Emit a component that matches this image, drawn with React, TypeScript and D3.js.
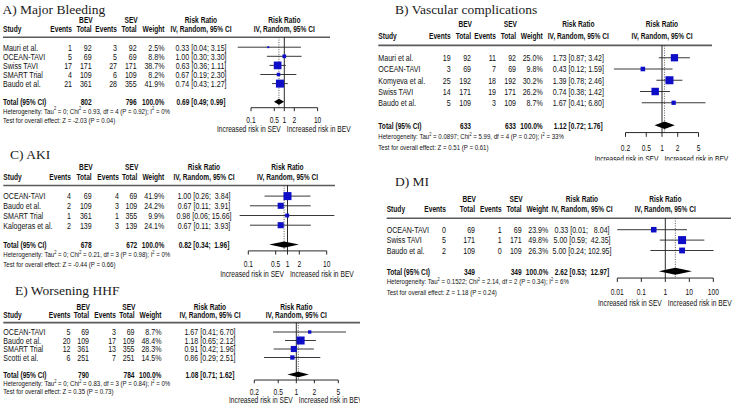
import React from 'react';
import * as d3 from 'd3';

// ---------- A) Major Bleeding
const studiesA = ["Mauri et al.", "OCEAN-TAVI", "Swiss TAVI", "SMART Trial", "Baudo et al."];
const bevEventsA = [1, 5, 17, 4, 21];
const bevTotalA = [92, 69, 171, 109, 361];
const sevEventsA = [3, 5, 27, 6, 28];
const sevTotalA = [92, 69, 171, 109, 355];
const weightA = [2.5, 8.8, 38.7, 8.2, 41.9];
const rrA = [0.33, 1.0, 0.63, 0.67, 0.74];
const loA = [0.04, 0.3, 0.36, 0.19, 0.43];
const hiA = [3.15, 3.3, 1.11, 2.3, 1.27];
const pooledA = [0.69, 0.49, 0.99];
const totalsA = [802, 796];
const hetA = "Heterogeneity: Tau^2 = 0; Chi^2 = 0.93, df = 4 (P = 0.92); I^2 = 0%";
const testA = "Test for overall effect: Z = -2.03 (P = 0.04)";
const ticksA = [0.1, 0.5, 1, 2, 10];

// ---------- B) Vascular complications
const studiesB = ["Mauri et al.", "OCEAN-TAVI", "Komyeva et al.", "Swiss TAVI", "Baudo et al."];
const bevEventsB = [19, 3, 25, 14, 5];
const bevTotalB = [92, 69, 192, 171, 109];
const sevEventsB = [11, 7, 18, 19, 3];
const sevTotalB = [92, 69, 192, 171, 109];
const weightB = [25.0, 9.8, 30.2, 26.2, 8.7];
const rrB = [1.73, 0.43, 1.39, 0.74, 1.67];
const loB = [0.87, 0.12, 0.78, 0.38, 0.41];
const hiB = [3.42, 1.59, 2.46, 1.42, 6.8];
const pooledB = [1.12, 0.72, 1.76];
const totalsB = [633, 633];
const hetB = "Heterogeneity: Tau^2 = 0.0897; Chi^2 = 5.99, df = 4 (P = 0.20); I^2 = 33%";
const testB = "Test for overall effect: Z = 0.51 (P = 0.61)";
const ticksB = [0.2, 0.5, 1, 2, 5];

// ---------- C) AKI
const studiesC = ["OCEAN-TAVI", "Baudo et al.", "SMART Trial", "Kalogeras et al."];
const bevEventsC = [4, 2, 1, 2];
const bevTotalC = [69, 109, 361, 139];
const sevEventsC = [4, 3, 1, 3];
const sevTotalC = [69, 109, 355, 139];
const weightC = [41.9, 24.2, 9.9, 24.1];
const rrC = [1.0, 0.67, 0.98, 0.67];
const loC = [0.26, 0.11, 0.06, 0.11];
const hiC = [3.84, 3.91, 15.66, 3.93];
const pooledC = [0.82, 0.34, 1.96];
const totalsC = [678, 672];
const hetC = "Heterogeneity: Tau^2 = 0; Chi^2 = 0.21, df = 3 (P = 0.98); I^2 = 0%";
const testC = "Test for overall effect: Z = -0.44 (P = 0.66)";
const ticksC = [0.1, 0.5, 1, 2, 10];

// ---------- D) MI
const studiesD = ["OCEAN-TAVI", "Swiss TAVI", "Baudo et al."];
const bevEventsD = [0, 5, 2];
const bevTotalD = [69, 171, 109];
const sevEventsD = [1, 1, 0];
const sevTotalD = [69, 171, 109];
const weightD = [23.9, 49.8, 26.3];
const rrD = [0.33, 5.0, 5.0];
const loD = [0.01, 0.59, 0.24];
const hiD = [8.04, 42.35, 102.95];
const pooledD = [2.62, 0.53, 12.97];
const totalsD = [349, 349];
const hetD = "Heterogeneity: Tau^2 = 0.1522; Chi^2 = 2.14, df = 2 (P = 0.34); I^2 = 6%";
const testD = "Test for overall effect: Z = 1.18 (P = 0.24)";
const ticksD = [0.01, 0.1, 1, 10, 100];

// ---------- E) Worsening HHF
const studiesE = ["OCEAN-TAVI", "Baudo et al.", "SMART Trial", "Scotti et al."];
const bevEventsE = [5, 20, 12, 6];
const bevTotalE = [69, 109, 361, 251];
const sevEventsE = [3, 17, 13, 7];
const sevTotalE = [69, 109, 355, 251];
const weightE = [8.7, 48.4, 28.3, 14.5];
const rrE = [1.67, 1.18, 0.91, 0.86];
const loE = [0.41, 0.65, 0.42, 0.29];
const hiE = [6.7, 2.12, 1.96, 2.51];
const pooledE = [1.08, 0.71, 1.62];
const totalsE = [790, 784];
const hetE = "Heterogeneity: Tau^2 = 0; Chi^2 = 0.83, df = 3 (P = 0.84); I^2 = 0%";
const testE = "Test for overall effect: Z = 0.35 (P = 0.73)";
const ticksE = [0.2, 0.5, 1, 2, 5];

const labelLeft = "Increased risk in SEV";
const labelRight = "Increased risk in BEV";

// ---------- layout (positions only)
type Layout = {
  id: string; title: string; titleX: number; titleY: number;
  studyX: number; ev1: number; tot1: number; ev2: number; tot2: number; w: number; ci: number;
  h1: number; s: number; lineEnd: number; xRange: [number, number];
  clip?: { x: number; y: number; w: number; h: number };
};

const layoutA: Layout = { id: 'A', title: 'A) Major Bleeding', titleX: 2.5, titleY: 13.5, studyX: 3, ev1: 72, tot1: 91.7, ev2: 117, tot2: 136.7, w: 164.5, ci: 201, h1: 19.9, s: 9.1, lineEnd: 330, xRange: [251, 317.6] };
const layoutB: Layout = { id: 'B', title: 'B) Vascular complications', titleX: 395, titleY: 13.5, studyX: 378.3, ev1: 450.7, tot1: 471, ev2: 496, tot2: 516, w: 542.7, ci: 578.3, h1: 24, s: 11.25, lineEnd: 712, xRange: [625.5, 698.5], clip: { x: 360, y: 0, w: 373, h: 160.5 } };
const layoutC: Layout = { id: 'C', title: 'C) AKI', titleX: 10, titleY: 159, studyX: 3.3, ev1: 71, tot1: 91.7, ev2: 119, tot2: 137.3, w: 164.3, ci: 204, h1: 167, s: 9.7, lineEnd: 335, xRange: [248.3, 326.7] };
const layoutD: Layout = { id: 'D', title: 'D) MI', titleX: 395, titleY: 186, studyX: 386.7, ev1: 446, tot1: 475, ev2: 501.7, tot2: 521.7, w: 548.3, ci: 582, h1: 198.5, s: 10.4, lineEnd: 731, xRange: [617.3, 713.3] };
const layoutE: Layout = { id: 'E', title: 'E) Worsening HHF', titleX: 15, titleY: 294.5, studyX: 3.3, ev1: 70.5, tot1: 89, ev2: 116, tot2: 134.5, w: 161.5, ci: 210, h1: 306.5, s: 8.5, lineEnd: 360, xRange: [254.3, 338.3], clip: { x: 0, y: 276, w: 360, h: 130 } };

const FONT = 'Liberation Sans, Arial, Helvetica, sans-serif';
const SX = 0.77;
const BSX = 0.72;
const FS = 9.2;
const HFS = 7.6;
const LFS = 8.8;
const LSX = 0.76;
const TXT = '#111';
const BLUE = '#0e0ec8';

type TProps = { x: number; y: number; children: React.ReactNode; anchor?: 'start' | 'middle' | 'end'; bold?: boolean; size?: number; sx?: number };
function T({ x, y, children, anchor = 'start', bold = false, size = FS, sx }: TProps) {
  const k = sx ?? (bold ? BSX : SX);
  return (
    <text
      transform={`translate(${x},${y + size * 0.36}) scale(${k},1)`}
      textAnchor={anchor}
      fontFamily={FONT}
      fontWeight={bold ? 'bold' : 'normal'}
      fontSize={size}
      fill={TXT}
      style={{ whiteSpace: 'pre' }}
    >
      {children}
    </text>
  );
}

function SupText({ x, y, text, size }: { x: number; y: number; text: string; size: number }) {
  const parts = text.split('^2');
  const up = size * 0.42;
  return (
    <text transform={`translate(${x},${y + size * 0.36}) scale(0.8,1)`} fontFamily={FONT} fontSize={size} fill={TXT} style={{ whiteSpace: 'pre' }}>
      {parts.map((p, i) => (
        <React.Fragment key={i}>
          <tspan dy={i > 0 ? up : 0}>{p}</tspan>
          {i < parts.length - 1 && <tspan dy={-up} fontSize={size * 0.65}>2</tspan>}
        </React.Fragment>
      ))}
    </text>
  );
}

type PanelData = {
  studies: string[]; bevEv: number[]; bevTot: number[]; sevEv: number[]; sevTot: number[];
  weight: number[]; rr: number[]; lo: number[]; hi: number[]; pooled: number[]; totals: number[];
  het: string; test: string; ticks: number[];
};

function ciText(rr: number, lo: number, hi: number, loW: number, hiW: number) {
  return `${rr.toFixed(2)} [${lo.toFixed(2).padStart(loW, ' ')}; ${hi.toFixed(2).padStart(hiW, ' ')}]`;
}

function Forest({ d, L }: { d: PanelData; L: Layout }) {
  const { s } = L;
  const k = d.studies.length;
  const h2 = L.h1 + s;
  const lineY = h2 + 0.9 * s;
  const rowY = (i: number) => h2 + (2 + i) * s;
  const totY = h2 + (3 + k) * s;
  const hetY = totY + s;
  const testY = totY + 2 * s;
  const axisY = totY + 0.65 * s;
  const tickLen = 0.38 * s;
  const incY = totY + 3 * s;

  const x = d3.scaleLog().domain([d.ticks[0], d.ticks[d.ticks.length - 1]]).range(L.xRange);
  const wmax = d3.max(d.weight) as number;
  const side = (w: number) => 8 * Math.sqrt(w / wmax);
  const allLo = [...d.lo, d.pooled[1]];
  const allHi = [...d.hi, d.pooled[2]];
  const loW = d3.max(allLo, (v) => v.toFixed(2).length) as number;
  const hiW = d3.max(allHi, (v) => v.toFixed(2).length) as number;
  const dh = 0.33 * s;
  const x1 = x(1);
  const xp = x(d.pooled[0]);

  const content = (
    <g>
      <text x={L.titleX} y={L.titleY} fontFamily="Liberation Serif, Times New Roman, serif" fontSize={13.5} fill="#1a1a1a">{L.title}</text>
      {/* headers */}
      <T x={L.tot1 + 1} y={L.h1} anchor="end" bold>BEV</T>
      <T x={L.tot2 + 1} y={L.h1} anchor="end" bold>SEV</T>
      <T x={L.ci} y={L.h1} anchor="middle" bold>Risk Ratio</T>
      <T x={x1} y={L.h1} anchor="middle" bold>Risk Ratio</T>
      <T x={L.studyX} y={h2} bold>Study</T>
      <T x={L.ev1} y={h2} anchor="end" bold>Events</T>
      <T x={L.tot1} y={h2} anchor="end" bold>Total</T>
      <T x={L.ev2} y={h2} anchor="end" bold>Events</T>
      <T x={L.tot2} y={h2} anchor="end" bold>Total</T>
      <T x={L.w} y={h2} anchor="end" bold>Weight</T>
      <T x={L.ci} y={h2} anchor="middle" bold>IV, Random, 95% CI</T>
      <T x={x1} y={h2} anchor="middle" bold>IV, Random, 95% CI</T>
      <line x1={L.studyX} x2={L.lineEnd} y1={lineY} y2={lineY} stroke="#5a5a5a" strokeWidth={1.6} />

      {/* reference lines */}
      <line x1={x1} x2={x1} y1={lineY} y2={axisY} stroke="#111" strokeWidth={0.9} />
      <line x1={xp} x2={xp} y1={lineY} y2={axisY} stroke="#444" strokeWidth={0.9} strokeDasharray="1,1.4" />

      {/* studies */}
      {d.studies.map((name, i) => {
        const y = rowY(i);
        const sd = side(d.weight[i]);
        return (
          <g key={name}>
            <T x={L.studyX} y={y}>{name}</T>
            <T x={L.ev1} y={y} anchor="end">{String(d.bevEv[i])}</T>
            <T x={L.tot1} y={y} anchor="end">{String(d.bevTot[i])}</T>
            <T x={L.ev2} y={y} anchor="end">{String(d.sevEv[i])}</T>
            <T x={L.tot2} y={y} anchor="end">{String(d.sevTot[i])}</T>
            <T x={L.w} y={y} anchor="end">{`${d.weight[i].toFixed(1)}%`}</T>
            <T x={L.ci} y={y} anchor="middle">{ciText(d.rr[i], d.lo[i], d.hi[i], loW, hiW)}</T>
            <line x1={x(d.lo[i])} x2={x(d.hi[i])} y1={y} y2={y} stroke="#222" strokeWidth={0.9} />
            <rect x={x(d.rr[i]) - sd / 2} y={y - sd / 2} width={sd} height={sd} fill={BLUE} />
          </g>
        );
      })}

      {/* total */}
      <T x={L.studyX} y={totY} bold>Total (95% CI)</T>
      <T x={L.tot1} y={totY} anchor="end" bold>{String(d.totals[0])}</T>
      <T x={L.tot2} y={totY} anchor="end" bold>{String(d.totals[1])}</T>
      <T x={L.w} y={totY} anchor="end" bold>100.0%</T>
      <T x={L.ci} y={totY} anchor="middle" bold>{ciText(d.pooled[0], d.pooled[1], d.pooled[2], loW, hiW)}</T>
      <polygon
        points={[[x(d.pooled[1]), totY], [xp, totY - dh], [x(d.pooled[2]), totY], [xp, totY + dh]].map((p) => p.join(',')).join(' ')}
        fill="#000"
      />
      <SupText x={L.studyX} y={hetY} text={d.het} size={HFS} />
      <T x={L.studyX} y={testY} size={HFS} sx={0.8}>{d.test}</T>

      {/* axis */}
      <line x1={x(d.ticks[0])} x2={x(d.ticks[d.ticks.length - 1])} y1={axisY} y2={axisY} stroke="#111" strokeWidth={0.9} />
      {d.ticks.map((t) => (
        <g key={t}>
          <line x1={x(t)} x2={x(t)} y1={axisY} y2={axisY + tickLen} stroke="#111" strokeWidth={0.9} />
          <T x={x(t)} y={testY} anchor="middle" size={LFS} sx={LSX}>{String(t)}</T>
        </g>
      ))}
      <T x={x1 - 3.5} y={incY} anchor="end" size={LFS} sx={LSX}>{labelLeft}</T>
      <T x={x1 + 2.5} y={incY} size={LFS} sx={LSX}>{labelRight}</T>
    </g>
  );

  if (L.clip) {
    const cid = `clip-${L.id}`;
    return (
      <g>
        <defs>
          <clipPath id={cid}>
            <rect x={L.clip.x} y={L.clip.y} width={L.clip.w} height={L.clip.h} />
          </clipPath>
        </defs>
        <g clipPath={`url(#${cid})`}>{content}</g>
      </g>
    );
  }
  return content;
}

const dataA: PanelData = { studies: studiesA, bevEv: bevEventsA, bevTot: bevTotalA, sevEv: sevEventsA, sevTot: sevTotalA, weight: weightA, rr: rrA, lo: loA, hi: hiA, pooled: pooledA, totals: totalsA, het: hetA, test: testA, ticks: ticksA };
const dataB: PanelData = { studies: studiesB, bevEv: bevEventsB, bevTot: bevTotalB, sevEv: sevEventsB, sevTot: sevTotalB, weight: weightB, rr: rrB, lo: loB, hi: hiB, pooled: pooledB, totals: totalsB, het: hetB, test: testB, ticks: ticksB };
const dataC: PanelData = { studies: studiesC, bevEv: bevEventsC, bevTot: bevTotalC, sevEv: sevEventsC, sevTot: sevTotalC, weight: weightC, rr: rrC, lo: loC, hi: hiC, pooled: pooledC, totals: totalsC, het: hetC, test: testC, ticks: ticksC };
const dataD: PanelData = { studies: studiesD, bevEv: bevEventsD, bevTot: bevTotalD, sevEv: sevEventsD, sevTot: sevTotalD, weight: weightD, rr: rrD, lo: loD, hi: hiD, pooled: pooledD, totals: totalsD, het: hetD, test: testD, ticks: ticksD };
const dataE: PanelData = { studies: studiesE, bevEv: bevEventsE, bevTot: bevTotalE, sevEv: sevEventsE, sevTot: sevTotalE, weight: weightE, rr: rrE, lo: loE, hi: hiE, pooled: pooledE, totals: totalsE, het: hetE, test: testE, ticks: ticksE };

export default function App() {
  return (
    <svg
      width={733}
      height={406}
      viewBox="0 0 733 406"
      style={{ position: 'fixed', left: 0, top: 0, background: '#fff', display: 'block' }}
    >
      <rect x={0} y={0} width={733} height={406} fill="#fff" />
      <Forest d={dataA} L={layoutA} />
      <Forest d={dataB} L={layoutB} />
      <Forest d={dataC} L={layoutC} />
      <Forest d={dataD} L={layoutD} />
      <Forest d={dataE} L={layoutE} />
    </svg>
  );
}
